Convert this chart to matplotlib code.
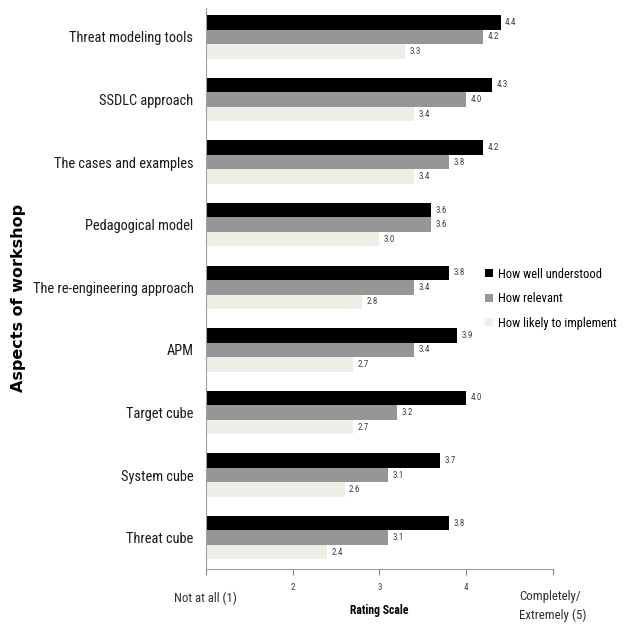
import matplotlib
matplotlib.use("Agg")
import matplotlib.pyplot as plt
import numpy as np
from matplotlib.patches import Patch

plt.rcParams['font.family'] = ['Roboto Condensed', 'Lato', 'DejaVu Sans']

aspects = [
    "Threat modeling tools",
    "SSDLC approach",
    "The cases and examples",
    "Pedagogical model",
    "The re-engineering approach",
    "APM",
    "Target cube",
    "System cube",
    "Threat cube",
]
understood = [4.4, 4.3, 4.2, 3.6, 3.8, 3.9, 4.0, 3.7, 3.8]
relevant = [4.2, 4.0, 3.8, 3.6, 3.4, 3.4, 3.2, 3.1, 3.1]
implement = [3.3, 3.4, 3.4, 3.0, 2.8, 2.7, 2.7, 2.6, 2.4]

series = [
    ("How well understood", understood, "#000000"),
    ("How relevant", relevant, "#969696"),
    ("How likely to implement", implement, "#EFEEE6"),
]

fig = plt.figure(figsize=(6.24, 6.25), dpi=100)
ax = fig.add_axes([0.330, 0.0896, 0.556, 0.8974])

y = np.arange(len(aspects))
h = 0.232
for i, (name, vals, color) in enumerate(series):
    pos = y + (i - 1) * h
    # bars start at 1 (the "Not at all" end of the scale)
    ax.barh(pos, np.array(vals) - 1, left=1, height=h, color=color, label=name)
    for p, v in zip(pos, vals):
        ax.text(v + 0.05, p, f"{v:.1f}", va='center', ha='left',
                fontsize=6.5, color='#404040')

ax.set_xlim(1, 5)
ax.set_ylim(8.5, -0.46)
ax.set_yticks(y)
ax.set_yticklabels(aspects, fontsize=10.4, color='#1a1a1a')
ax.tick_params(axis='y', length=0, pad=9)
ax.set_xticks([1, 2, 3, 4, 5])
ax.set_xticklabels(['', '2', '3', '4', ''], fontsize=6.5, color='#404040')
ax.tick_params(axis='x', length=4, color='#888888', pad=6)

trans = ax.get_xaxis_transform()
ax.annotate("Not at all (1)", xy=(1, 0), xycoords=trans, xytext=(0, -16),
            textcoords='offset points', ha='center', va='top',
            fontsize=9.2, color='#303030')
ax.annotate("Completely/\nExtremely (5)", xy=(5, 0), xycoords=trans, xytext=(0, -15),
            textcoords='offset points', ha='center', va='top',
            fontsize=9.3, color='#303030', multialignment='left', linespacing=1.55)

ax.set_xlabel("Rating Scale", fontsize=8.5, fontweight='bold', labelpad=9)
fig.text(0.03, 0.523, "Aspects of workshop", rotation=90, ha='center', va='center',
         fontsize=11.5, fontweight='bold', family='DejaVu Sans')

for side in ['top', 'right']:
    ax.spines[side].set_visible(False)
for side in ['left', 'bottom']:
    ax.spines[side].set_color('#a0a0a0')

handles = [Patch(facecolor=c, label=n) for n, _, c in series]
fig.legend(handles=handles, loc='upper left', bbox_to_anchor=(0.77, 0.58),
           frameon=False, fontsize=9, handlelength=0.6, handleheight=0.6,
           handletextpad=0.4, labelspacing=0.92, borderaxespad=0)

fig.savefig("out.png", dpi=100)
